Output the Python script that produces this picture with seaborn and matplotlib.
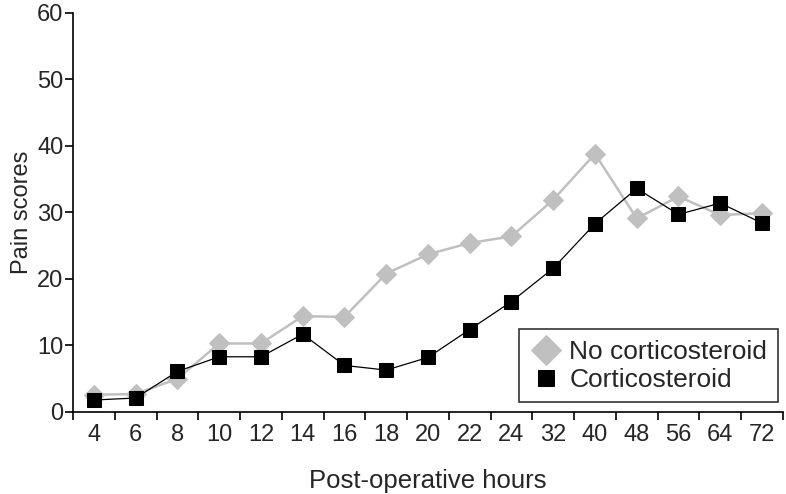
import numpy as np
import pandas as pd
import matplotlib
matplotlib.use('Agg')
import matplotlib.pyplot as plt
from matplotlib.ticker import FixedLocator
import seaborn as sns

# datos
hours = ['4', '6', '8', '10', '12', '14', '16', '18', '20', '22', '24', '32', '40', '48', '56', '64', '72']
no_cortico = [2.6, 2.7, 5.0, 10.3, 10.3, 14.4, 14.3, 20.8, 23.7, 25.4, 26.4, 31.9, 38.8, 29.1, 32.4, 29.6, 29.9]
cortico = [1.8, 2.1, 6.1, 8.3, 8.3, 11.7, 7.0, 6.3, 8.2, 12.4, 16.6, 21.6, 28.3, 33.6, 29.7, 31.4, 28.4]
groups = ['No corticosteroid', 'Corticosteroid']

pos = np.arange(len(hours))
df = pd.DataFrame({
    'pos': np.concatenate([pos, pos]),
    'score': no_cortico + cortico,
    'group': [groups[0]] * len(hours) + [groups[1]] * len(hours),
})

sns.set_style('white')
plt.rcParams['font.family'] = ['Liberation Sans', 'DejaVu Sans']

fig = plt.figure(figsize=(7.86, 4.94), dpi=100)
ax = fig.add_axes([0.093, 0.166, 0.903, 0.808])

gray = '#c0c0c0'
sns.lineplot(data=df[df.group == groups[0]], x='pos', y='score', ax=ax,
             color=gray, lw=1.8, marker='D', markersize=10,
             markeredgecolor=gray, label=groups[0], zorder=2)
sns.lineplot(data=df[df.group == groups[1]], x='pos', y='score', ax=ax,
             color='black', lw=0.9, marker='s', markersize=9.5,
             markeredgecolor='black', label=groups[1], zorder=3)

ax.set_xlim(-0.5, len(hours) - 0.5)
ax.set_ylim(0, 60)
ax.set_yticks(range(0, 61, 10))
ax.xaxis.set_major_locator(FixedLocator(np.arange(-0.5, len(hours), 1)))
ax.set_xticklabels([])
ax.xaxis.set_minor_locator(FixedLocator(pos))
ax.set_xticklabels(hours, minor=True)
ax.tick_params(axis='x', which='major', length=6, width=1.2, color='black', direction='out', bottom=True)
ax.tick_params(axis='x', which='minor', length=0, labelsize=17, pad=9)
ax.tick_params(axis='y', length=6, width=1.2, color='black', direction='out', left=True, labelsize=17, pad=1)

for s in ['top', 'right']:
    ax.spines[s].set_visible(False)
for s in ['left', 'bottom']:
    ax.spines[s].set_color('black')
    ax.spines[s].set_linewidth(1.2)

ax.set_xlabel('Post-operative hours', fontsize=18.5, labelpad=16)
ax.set_ylabel('Pain scores', fontsize=17, labelpad=3)

leg = ax.legend(loc='lower right', bbox_to_anchor=(0.993, 0.024), fontsize=19,
                frameon=True, fancybox=False, edgecolor='black',
                handlelength=1.2, handletextpad=0.3, borderpad=0.4, labelspacing=0.15,
                borderaxespad=0)
leg.get_frame().set_linewidth(1.2)
for h in leg.legend_handles:
    h.set_linestyle('none')
leg.legend_handles[0].set_markersize(15)
leg.legend_handles[1].set_markersize(11)

fig.savefig('out.png', dpi=100)
